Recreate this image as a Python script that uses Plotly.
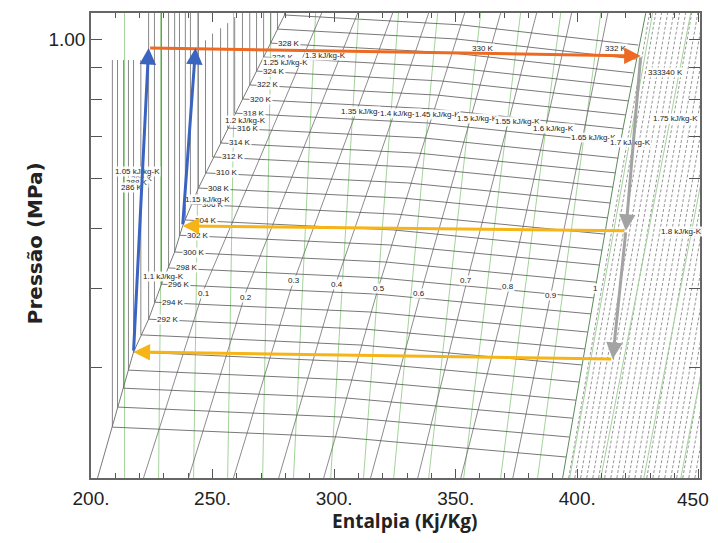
import math
import plotly.graph_objects as go

# ---------------- data ----------------
# saturation lines (enthalpy kJ/kg, pressure MPa)
sat_liq_h = [202.7, 208.8, 213.4, 217.5, 223.7, 229.0, 234.4, 237.7, 244.2, 253.3, 262.3, 268.1, 273.9, 280.0]
sat_liq_P = [0.200, 0.241, 0.278, 0.3174, 0.358, 0.407, 0.458, 0.504, 0.579, 0.683, 0.8025, 0.889, 0.985, 1.100]
sat_vap_h = [394.0, 402.3, 410.5, 418.7, 428.2]
sat_vap_P = [0.200, 0.308, 0.470, 0.716, 1.100]

# isotherms inside the dome: left end, middle, right end
iso_T = [332, 330, 328, 326, 324, 322, 320, 318, 316, 314, 312, 310, 308, 306,
         304, 302, 300, 298, 296, 294, 292, 290, 288, 286, 284, 282, 280]
iso_h_left = [279.6, 276.7, 273.9, 271.0, 268.1, 265.3, 262.3, 259.1, 256.2, 253.3, 250.0, 247.1, 244.2, 240.9,
              238.8, 236.4, 234.4, 231.9, 229.0, 226.1, 223.7, 220.5, 217.5, 215.4, 213.4, 210.9, 208.8]
iso_P_left = [1.092, 1.037, 0.985, 0.936, 0.889, 0.845, 0.8025, 0.762, 0.7215, 0.683, 0.649, 0.612, 0.579, 0.546,
              0.515, 0.487, 0.458, 0.432, 0.407, 0.381, 0.358, 0.338, 0.3174, 0.297, 0.278, 0.2594, 0.241]
iso_h_mid = [352.3, 350.4, 348.4, 346.5, 344.6, 342.6, 340.5, 338.5, 336.4, 334.6, 332.3, 330.2, 328.4, 326.1,
             324.5, 322.8, 321.2, 319.3, 317.3, 315.3, 313.4, 311.2, 309.1, 307.4, 305.8, 303.9, 302.1]
iso_P_mid = [1.053, 1.000, 0.950, 0.902, 0.857, 0.814, 0.774, 0.735, 0.696, 0.658, 0.625, 0.590, 0.558, 0.526,
             0.4965, 0.470, 0.4415, 0.4163, 0.3925, 0.3675, 0.345, 0.3256, 0.306, 0.2864, 0.268, 0.250, 0.2324]
iso_h_right = [425.1, 424.1, 423.0, 422.0, 421.0, 420.0, 419.0, 418.0, 416.9, 415.8, 414.8, 413.7, 412.6, 411.4,
               410.3, 409.2, 408.0, 406.8, 405.7, 404.4, 403.2, 402.0, 400.8, 399.5, 398.2, 396.8, 395.4]
iso_P_right = [0.978, 0.929, 0.883, 0.839, 0.797, 0.757, 0.719, 0.683, 0.646, 0.612, 0.581, 0.548, 0.519, 0.489,
               0.461, 0.4366, 0.410, 0.387, 0.365, 0.3415, 0.321, 0.3027, 0.2843, 0.266, 0.249, 0.2324, 0.216]
# top of the liquid-side (near vertical) part of each isotherm
iso_P_top = [1.10, 1.10, 1.10, 1.10, 1.10, 1.10, 1.10, 1.084, 1.06, 1.04, 1.02, 0.995, 1.10, 1.10,
             1.10, 1.10, 1.10, 1.10, 1.10, 1.10, 1.10, 0.926, 0.926, 0.926, 0.926, 0.926, 0.926]

# constant-quality lines: bottom, middle, top
qual = ["0.1", "0.2", "0.3", "0.4", "0.5", "0.6", "0.7", "0.8", "0.9"]
qual_h_bot = [221.6, 240.1, 258.6, 277.2, 295.7, 315.0, 334.4, 352.1, 373.5]
qual_h_mid = [246.3, 264.0, 282.1, 299.8, 317.9, 336.0, 353.7, 371.8, 389.5]
qual_h_top = [294.9, 309.7, 324.1, 338.9, 353.7, 368.5, 383.3, 397.7, 412.6]
qual_P_bot = 0.200
qual_P_mid = 0.3984
qual_P_top = 1.100

# isentropes (kJ/kg-K): polylines
ent_s = ["1.05", "1.1", "1.15", "1.2", "1.25", "1.3", "1.35", "1.4", "1.45", "1.5", "1.55", "1.6", "1.65",
         "1.7", "1.75", "1.8", "1.85"]
ent_h = [[213.8, 213.8], [227.8, 228.6, 228.6], [242.2, 243.8, 243.8], [256.2, 258.6, 258.6],
         [270.6, 273.9, 273.9], [283.3, 292.4], [298.6, 310.1], [312.1, 326.5], [324.5, 342.6],
         [338.9, 360.3], [353.3, 376.7], [368.5, 393.2], [383.7, 409.7], [396.9, 431.0],
         [409.7, 446.7], [427.4, 464.4], [442.6, 479.6]]
ent_P = [[0.2, 1.1], [0.2, 0.406, 1.1], [0.2, 0.5546, 1.1], [0.2, 0.7215, 1.1],
         [0.2, 0.943, 1.1], [0.2, 1.1], [0.2, 1.1], [0.2, 1.1], [0.2, 1.1],
         [0.2, 1.1], [0.2, 1.1], [0.2, 1.1], [0.2, 1.1], [0.2, 1.1],
         [0.2, 1.1], [0.2, 1.1], [0.2, 1.1]]

# superheated-region dashed lines (bottom / top enthalpy)
vap_h_bot = [396.5, 399.0, 401.4, 403.9, 406.4, 408.8, 411.3, 413.8, 416.3, 418.7, 421.2,
             423.7, 426.1, 428.6, 431.1, 433.5, 436.0, 438.5, 440.9, 443.4, 445.9, 448.4]
vap_h_top = [429.8, 432.3, 434.7, 437.2, 439.7, 442.1, 444.6, 447.1, 449.6, 452.0, 454.5,
             457.0, 459.4, 461.9, 464.4, 466.8, 469.3, 471.8, 474.2, 476.7, 479.2, 481.7]

# isotherm labels
tlab_text = ["328 K", "326 K", "324 K", "322 K", "320 K", "318 K", "316 K", "314 K", "312 K", "310 K",
             "308 K", "306 K", "304 K", "302 K", "300 K", "298 K", "296 K", "294 K", "292 K",
             "330 K", "332 K", "333340 K", "290 K", "288 K", "286 K"]
tlab_h = [281.3, 278.8, 275.1, 272.6, 269.8, 266.9, 264.4, 261.1, 258.6, 255.8,
          252.5, 250.0, 247.5, 244.2, 242.2, 239.3, 236.4, 233.9, 231.5,
          361.1, 415.8, 436.4, 221.0, 219.0, 217.0]
tlab_P = [0.985, 0.936, 0.889, 0.845, 0.8025, 0.762, 0.7215, 0.683, 0.649, 0.612,
          0.579, 0.546, 0.515, 0.487, 0.458, 0.432, 0.407, 0.381, 0.358,
          0.9675, 0.9675, 0.886, 0.600, 0.590, 0.580]

# entropy labels
slab_text = ["1.05 kJ/kg-K", "1.1 kJ/kg-K", "1.15 kJ/kg-K", "1.2 kJ/kg-K", "1.25 kJ/kg-K", "1.3 kJ/kg-K",
             "1.35 kJ/kg-", "1.4 kJ/kg-K", "1.45 kJ/kg-K", "1.5 kJ/kg-K", "1.55 kJ/kg-K", "1.6 kJ/kg-K",
             "1.65 kJ/kg-K", "1.7 kJ/kg-K", "1.75 kJ/kg-K", "1.8 kJ/kg-K"]
slab_h = [219.1, 229.8, 247.9, 263.6, 280.0, 296.5, 310.9, 327.4, 342.6, 359.1, 375.5, 390.3,
          406.8, 422.0, 440.5, 443.0]
slab_P = [0.616, 0.418, 0.556, 0.743, 0.916, 0.943, 0.768, 0.762, 0.757, 0.748, 0.738, 0.7215,
          0.698, 0.683, 0.748, 0.493]

# quality labels
qlab_text = ["0.1", "0.2", "0.3", "0.4", "0.5", "0.6", "0.7", "0.8", "0.9", "1"]
qlab_h = [246.3, 263.6, 283.7, 301.0, 318.3, 334.8, 354.1, 371.4, 389.1, 407.6]
qlab_P = [0.394, 0.388, 0.412, 0.407, 0.401, 0.394, 0.413, 0.403, 0.390, 0.401]

# refrigeration cycle (arrows): tail -> head
cyc_name = ["compressao", "bomba1", "bomba2", "valv1", "valv2", "cond1", "cond2"]
cyc_h0 = [223.7, 217.5, 237.7, 426.1, 420.0, 420.0, 414.6]
cyc_P0 = [0.9675, 0.3174, 0.504, 0.9396, 0.495, 0.495, 0.3095]
cyc_h1 = [426.1, 223.7, 243.0, 420.0, 414.6, 237.7, 217.5]
cyc_P1 = [0.9396, 0.9675, 0.9675, 0.495, 0.3095, 0.504, 0.3174]
cyc_col = ["#EE6A22", "#3B63C0", "#3B63C0", "#A3A3A3", "#A3A3A3", "#F6B417", "#F6B417"]

x_ticks = [200, 250, 300, 350, 400, 450]
x_ticktext = ["200.", "250.", "300.", "350.", "400.", ""]
x_last_label = "450."
y_ticks = [0.3, 0.4, 0.5, 0.6, 0.7, 0.8, 0.9, 1.0]
y_ticktext = ["", "", "", "", "", "", "", "1.00"]
x_title = "Entalpia (Kj/Kg)"
y_title = "Pressão (MPa)"

# ---------------- figure ----------------
fig = go.Figure()


def add_lines(xs, ys, color, width, dash="solid"):
    fig.add_trace(go.Scatter(x=xs, y=ys, mode="lines", hoverinfo="skip", showlegend=False,
                             line=dict(color=color, width=width, dash=dash)))


# superheated dashed lines
xs, ys = [], []
for hb, ht in zip(vap_h_bot, vap_h_top):
    xs += [hb, ht, None]
    ys += [0.2, 1.1, None]
add_lines(xs, ys, "#7a7a7a", 0.8, "3px,2px")

# isentropes
xs, ys = [], []
for hh, pp in zip(ent_h, ent_P):
    xs += hh + [None]
    ys += pp + [None]
add_lines(xs, ys, "#a3d49a", 1.0)

# quality lines
xs, ys = [], []
for hb, hm, ht in zip(qual_h_bot, qual_h_mid, qual_h_top):
    xs += [hb, hm, ht, None]
    ys += [qual_P_bot, qual_P_mid, qual_P_top, None]
add_lines(xs, ys, "#6f6f6f", 0.8)

# isotherms in dome
xs, ys = [], []
for a, b, c, d, e, f in zip(iso_h_left, iso_P_left, iso_h_mid, iso_P_mid, iso_h_right, iso_P_right):
    xs += [a, c, e, None]
    ys += [b, d, f, None]
add_lines(xs, ys, "#555555", 0.8)

# liquid-side isotherms (vertical)
xs, ys = [], []
for a, b, t in zip(iso_h_left, iso_P_left, iso_P_top):
    xs += [a, a, None]
    ys += [b, t, None]
add_lines(xs, ys, "#6a6a6a", 0.8)

# saturation lines
add_lines(sat_liq_h, sat_liq_P, "#6a6a6a", 0.9)
add_lines(sat_vap_h, sat_vap_P, "#5d8a5d", 1.0)

ann = []
lab_font = dict(family="Liberation Sans, Arial", size=8, color="#222222")
for t, h, p in zip(tlab_text + slab_text + qlab_text, tlab_h + slab_h + qlab_h, tlab_P + slab_P + qlab_P):
    ann.append(dict(x=h, y=math.log10(p), text=t, showarrow=False, font=lab_font,
                    bgcolor="rgba(255,255,255,0.9)", borderpad=0))

for h0, p0, h1, p1, col in zip(cyc_h0, cyc_P0, cyc_h1, cyc_P1, cyc_col):
    ann.append(dict(x=h1, y=math.log10(p1), ax=h0, ay=math.log10(p0), xref="x", yref="y",
                    axref="x", ayref="y", text="", showarrow=True, arrowhead=2, arrowsize=1.1,
                    arrowwidth=3, arrowcolor=col, standoff=0))

# last x tick label, nudged inside the page like in the reference
ann.append(dict(xref="paper", yref="paper", x=0.992, y=-0.047, text=x_last_label,
                showarrow=False, xanchor="center", yanchor="middle",
                font=dict(family="Liberation Sans, Arial", size=19, color="#222")))
# axis titles
ann.append(dict(xref="paper", yref="paper", x=0.515, y=-0.092, text="<b>" + x_title + "</b>",
                showarrow=False, xanchor="center", yanchor="middle",
                font=dict(family="Open Sans, Liberation Sans", size=19, color="#222")))
ann.append(dict(xref="paper", yref="paper", x=-0.092, y=0.505, text="<b>" + y_title + "</b>",
                showarrow=False, xanchor="center", yanchor="middle", textangle=-90,
                font=dict(family="DejaVu Sans, Liberation Sans", size=20, color="#222")))

# the page body adds an 8px margin, so the figure is 8px smaller than the window
fig.update_layout(
    width=710, height=535,
    margin=dict(l=83, r=18, t=5, b=65, autoexpand=False),
    paper_bgcolor="white", plot_bgcolor="white",
    annotations=ann,
    xaxis=dict(range=[200, 450.5], tickvals=x_ticks, ticktext=x_ticktext, ticks="inside",
               ticklen=9, tickwidth=1, tickcolor="#555", showline=True, linecolor="#666",
               linewidth=1.5, mirror="allticks", showgrid=False, zeroline=False, automargin=False,
               ticklabelstandoff=2,
               minor=dict(dtick=10, ticks="inside", ticklen=5, tickcolor="#555", tick0=200),
               tickfont=dict(family="Liberation Sans, Arial", size=19, color="#222")),
    yaxis=dict(type="log", range=[math.log10(0.2), math.log10(1.1)], tickvals=y_ticks,
               ticktext=y_ticktext, ticks="inside", ticklen=11, tickwidth=1, tickcolor="#555",
               showline=True, linecolor="#666", linewidth=1.5, mirror="allticks", automargin=False,
               showgrid=False, zeroline=False,
               tickfont=dict(family="Liberation Sans, Arial", size=19, color="#222")),
)

fig.write_html("out.html")
